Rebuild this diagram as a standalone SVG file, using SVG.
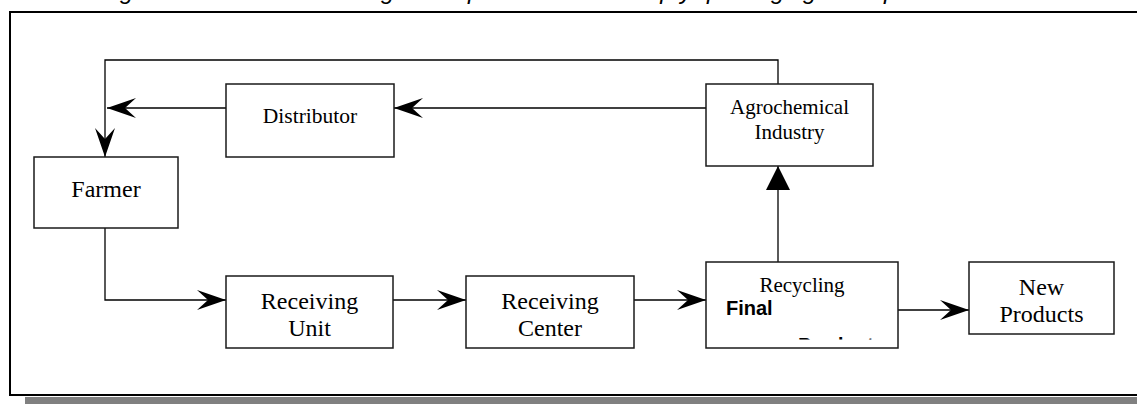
<svg xmlns="http://www.w3.org/2000/svg" width="1137" height="404" viewBox="0 0 1137 404">
<style>
.box{fill:#fff;stroke:#1a1a1a;stroke-width:1.5}
.lbl{font-family:"Liberation Serif","Times New Roman",serif;fill:#000;text-anchor:middle}
.cn{fill:none;stroke:#000;stroke-width:1.3}
.cap{font-family:"Liberation Sans",Arial,sans-serif;font-style:italic;font-size:24px;fill:#000}
</style>
<defs>
<marker id="barb" viewBox="-30 -11 31 22" refX="0" refY="0" markerWidth="31" markerHeight="22" markerUnits="userSpaceOnUse" orient="auto">
<path d="M0,0 L-29,-10 L-18,0 L-29,10 Z" fill="#000"/>
</marker>
<marker id="tri" viewBox="-26 -13 27 26" refX="0" refY="0" markerWidth="27" markerHeight="26" markerUnits="userSpaceOnUse" orient="auto">
<path d="M0,0 L-24,-12 L-24,12 Z" fill="#000"/>
</marker>
<clipPath id="clipProd"><rect x="700" y="337" width="200" height="2.5"/></clipPath>
</defs>
<rect x="0" y="0" width="1137" height="404" fill="#fff"/>
<text class="cap" y="-1"><tspan x="100">Figure 1. Flow</tspan><tspan x="349">diagram</tspan><tspan x="468">process</tspan><tspan x="560">of the</tspan><tspan x="627">empty</tspan><tspan x="707">packaging</tspan><tspan x="884">pesticides</tspan></text>
<rect x="25" y="397" width="1120" height="10" fill="#808080"/>
<rect x="10" y="12" width="1130" height="383" fill="#fff" stroke="#000" stroke-width="2"/>
<g id="connectors">
<polyline class="cn" points="778,84 778,60 105,60 105,157" marker-end="url(#barb)"/>
<line class="cn" x1="706" y1="108" x2="394" y2="108" marker-end="url(#barb)"/>
<line class="cn" x1="226" y1="108" x2="107" y2="108" marker-end="url(#barb)"/>
<polyline class="cn" points="105,228 105,300 226,300" marker-end="url(#barb)"/>
<line class="cn" x1="393" y1="300" x2="466" y2="300" marker-end="url(#barb)"/>
<line class="cn" x1="634" y1="300" x2="706" y2="300" marker-end="url(#barb)"/>
<line class="cn" x1="778" y1="262" x2="778" y2="166" stroke-width="2" marker-end="url(#tri)"/>
<line class="cn" x1="898" y1="310" x2="969" y2="310" marker-end="url(#barb)"/>
</g>
<g id="distributor">
<rect class="box" x="226" y="84" width="168" height="73"/>
<text class="lbl" x="310" y="122.5" font-size="21.5">Distributor</text>
</g>
<g id="farmer">
<rect class="box" x="34" y="157" width="144" height="71"/>
<text class="lbl" x="106" y="197" font-size="24">Farmer</text>
</g>
<g id="agrochemical">
<rect class="box" x="706" y="84" width="167" height="82"/>
<text class="lbl" x="789.5" y="114" font-size="21">Agrochemical</text>
<text class="lbl" x="789.5" y="139" font-size="21">Industry</text>
</g>
<g id="receiving-unit">
<rect class="box" x="226" y="276" width="167" height="72"/>
<text class="lbl" x="309.5" y="308.5" font-size="24">Receiving</text>
<text class="lbl" x="309.5" y="336" font-size="24">Unit</text>
</g>
<g id="receiving-center">
<rect class="box" x="466" y="276" width="168" height="72"/>
<text class="lbl" x="550" y="308.5" font-size="24">Receiving</text>
<text class="lbl" x="550" y="336" font-size="24">Center</text>
</g>
<g id="recycling">
<rect class="box" x="706" y="262" width="192" height="86"/>
<text class="lbl" x="802" y="292" font-size="21">Recycling</text>
<text x="726" y="315" font-family="'Liberation Sans',Arial,sans-serif" font-weight="bold" font-size="20">Final</text>
<text x="798" y="352" font-family="'Liberation Sans',Arial,sans-serif" font-weight="bold" font-size="20" clip-path="url(#clipProd)">Product</text>
</g>
<g id="new-products">
<rect class="box" x="969" y="262" width="145" height="72"/>
<text class="lbl" x="1041.5" y="294.5" font-size="24">New</text>
<text class="lbl" x="1041.5" y="322" font-size="24">Products</text>
</g>
</svg>
